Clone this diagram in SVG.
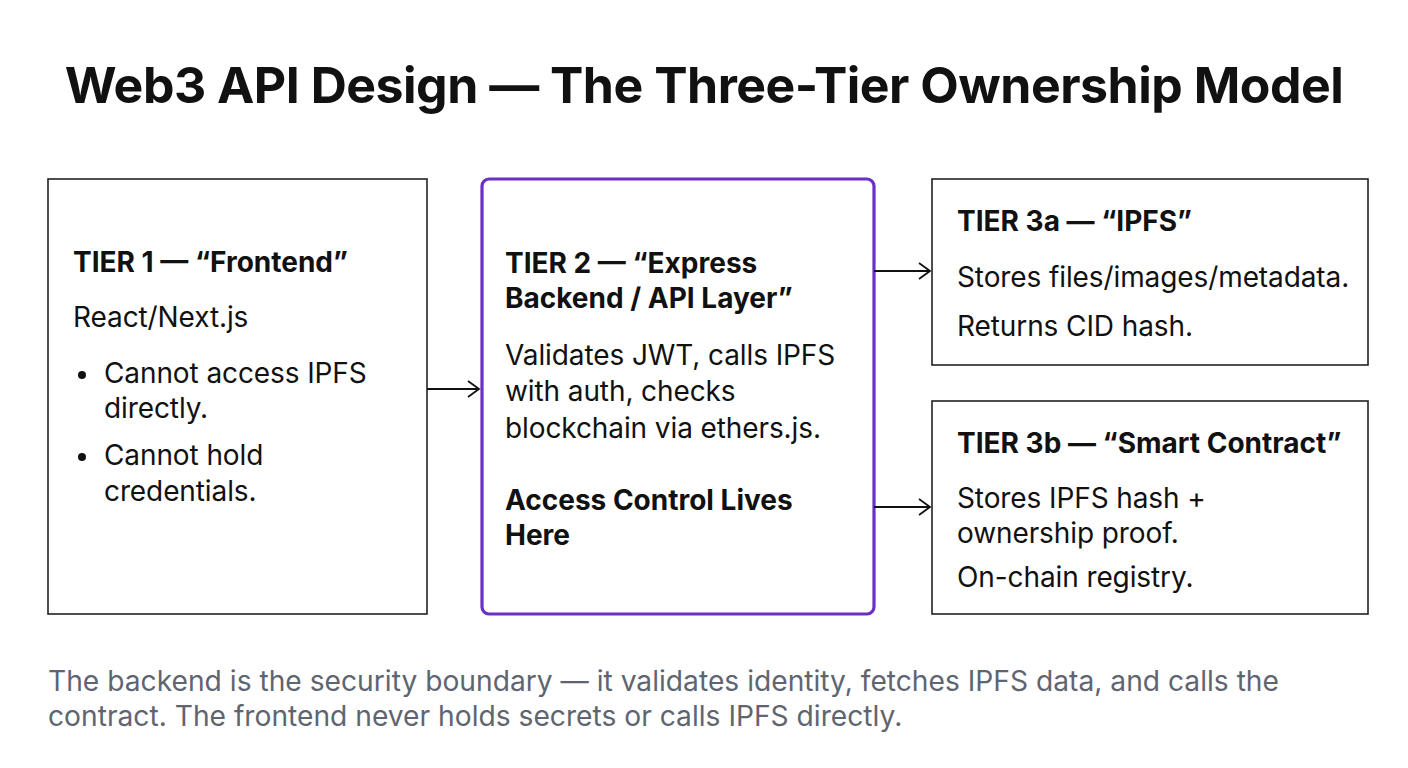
<svg xmlns="http://www.w3.org/2000/svg" width="1408" height="768" viewBox="0 0 1408 768">
  <style>
    text { font-family: Inter, "Noto Sans", "Liberation Sans", sans-serif; fill: #111; }
    .title { font-size: 50px; font-weight: 700; letter-spacing: -0.5px; }
    .h { font-size: 28px; font-weight: 700; }
    .b { font-size: 28px; font-weight: 400; letter-spacing: -0.1px; }
    .foot { font-size: 28.2px; font-weight: 400; fill: #5f6570; }
    .box { fill: #fff; stroke: #222; stroke-width: 1.6; }
    .box2 { fill: #fff; stroke: #6a2fc4; stroke-width: 3.2; }
    .conn { fill: none; stroke: #111; stroke-width: 1.8; }
  </style>
  <defs>
    <marker id="arr" markerUnits="userSpaceOnUse" markerWidth="16" markerHeight="20" refX="13" refY="10" orient="auto">
      <path d="M2,2 L13,10 L2,18" fill="none" stroke="#111" stroke-width="1.8"/>
    </marker>
  </defs>
  <rect width="1408" height="768" fill="#fff"/>
  <text class="title" x="704" y="103" text-anchor="middle">Web3 API Design — The Three-Tier Ownership Model</text>

  <g id="tier1">
    <rect class="box" x="48" y="179" width="379" height="435"/>
    <text class="h" x="73" y="272">TIER 1 — “Frontend”</text>
    <text class="b" x="73" y="327">React/Next.js</text>
    <circle cx="82" cy="375" r="4" fill="#111"/>
    <text class="b" x="104" y="383">Cannot access IPFS</text>
    <text class="b" x="104" y="418">directly.</text>
    <circle cx="82" cy="457" r="4" fill="#111"/>
    <text class="b" x="104" y="465">Cannot hold</text>
    <text class="b" x="104" y="501">credentials.</text>
  </g>

  <g id="tier2">
    <rect class="box2" x="482" y="179" width="392" height="435" rx="7"/>
    <text class="h" x="505" y="273">TIER 2 — “Express</text>
    <text class="h" x="505" y="308">Backend / API Layer”</text>
    <text class="b" x="505" y="365">Validates JWT, calls IPFS</text>
    <text class="b" x="505" y="401">with auth, checks</text>
    <text class="b" x="505" y="438">blockchain via ethers.js.</text>
    <text class="h" x="505" y="510">Access Control Lives</text>
    <text class="h" x="505" y="545">Here</text>
  </g>

  <g id="tier3a">
    <rect class="box" x="932" y="179" width="436" height="186"/>
    <text class="h" x="957" y="231">TIER 3a — “IPFS”</text>
    <text class="b" x="957" y="287">Stores files/images/metadata.</text>
    <text class="b" x="957" y="336">Returns CID hash.</text>
  </g>

  <g id="tier3b">
    <rect class="box" x="932" y="401" width="436" height="213"/>
    <text class="h" x="957" y="453">TIER 3b — “Smart Contract”</text>
    <text class="b" x="957" y="508">Stores IPFS hash +</text>
    <text class="b" x="957" y="543">ownership proof.</text>
    <text class="b" x="957" y="587">On-chain registry.</text>
  </g>

  <g id="connectors">
    <line class="conn" x1="427" y1="389" x2="479" y2="389" marker-end="url(#arr)"/>
    <line class="conn" x1="874" y1="271" x2="930" y2="271" marker-end="url(#arr)"/>
    <line class="conn" x1="874" y1="507" x2="930" y2="507" marker-end="url(#arr)"/>
  </g>

  <text class="foot" x="48" y="691">The backend is the security boundary — it validates identity, fetches IPFS data, and calls the</text>
  <text class="foot" x="48" y="726">contract. The frontend never holds secrets or calls IPFS directly.</text>
</svg>
